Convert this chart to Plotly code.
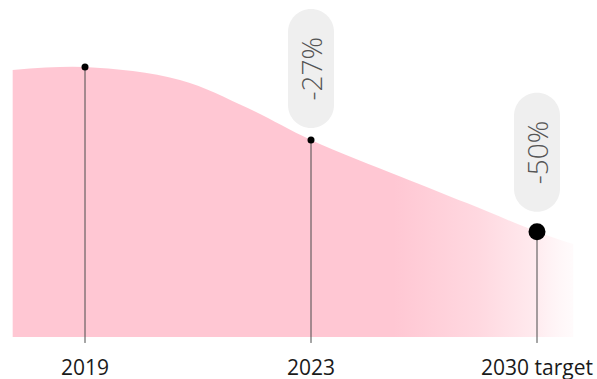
import plotly.graph_objects as go

# ---- data ----
years = ["2019", "2023", "2030 target"]
year_pos = [0, 1, 2]
values = [100, 73, 39]            # emissions index
changes = ["", "-27%", "-50%"]

# outline of the shaded area (category position, index value)
curve_x = [-0.32, 0, 0.42, 0.72, 1, 1.40, 1.69, 2, 2.16]
curve_y = [98.9, 100, 95.2, 84.8, 73, 59.3, 49.6, 39, 34.4]

PINK = "rgb(255,199,211)"

fig = go.Figure()

fig.add_trace(go.Scatter(
    x=curve_x, y=curve_y, mode="lines", line=dict(width=0, shape="spline", smoothing=1.0),
    fill="tozeroy",
    fillgradient=dict(type="horizontal", colorscale=[
        [0.0, PINK], [0.68, PINK], [0.83, "rgb(255,216,224)"],
        [0.93, "rgb(255,234,238)"], [1.0, "rgba(255,244,246,0.4)"]]),
    hoverinfo="skip", showlegend=False))

# stems
stem_bottom = -2.2
for xp, v in zip(year_pos, values):
    fig.add_trace(go.Scatter(x=[xp, xp], y=[stem_bottom, v], mode="lines",
                             line=dict(color="#4a4a4a", width=1),
                             hoverinfo="skip", showlegend=False))

# dots
fig.add_trace(go.Scatter(
    x=year_pos, y=values, mode="markers",
    marker=dict(color="#000000", size=[7, 7, 17], opacity=1, line=dict(width=0)),
    hoverinfo="skip", showlegend=False))

# pills with rotated labels
W, H = 46, 119
r = W / 2
k = 0.5523
for xp, v, txt, gap in zip(year_pos, values, changes, [0, 12, 20]):
    if not txt:
        continue
    b = gap
    t = gap + H
    path = (f"M {-r},{b + r} L {-r},{t - r} "
            f"C {-r},{t - r + k * r} {-k * r},{t} 0,{t} "
            f"C {k * r},{t} {r},{t - r + k * r} {r},{t - r} "
            f"L {r},{b + r} "
            f"C {r},{b + r - k * r} {k * r},{b} 0,{b} "
            f"C {-k * r},{b} {-r},{b + r - k * r} {-r},{b + r} Z")
    fig.add_shape(type="path", xref="x", yref="y", xsizemode="pixel", ysizemode="pixel",
                  xanchor=xp, yanchor=v, path=path,
                  fillcolor="#efefef", line=dict(width=0), layer="above")
    fig.add_annotation(x=xp, y=v, xref="x", yref="y", text=txt, showarrow=False,
                       textangle=-90, yshift=gap + H / 2,
                       font=dict(family="Open Sans", size=28, color="#555555", weight=300))

fig.update_layout(
    width=597, height=379,
    margin=dict(l=0, r=0, t=0, b=29),
    paper_bgcolor="white", plot_bgcolor="rgba(0,0,0,0)",
    xaxis=dict(range=[-85 / 226, 2 + 60 / 226], tickvals=year_pos, ticktext=years,
               showgrid=False, zeroline=False, showline=False, ticks="",
               ticklabelstandoff=3, automargin=False,
               tickfont=dict(family="Open Sans", size=21, color="#1a1a1a")),
    yaxis=dict(range=[-350 / 2.7 + 337 / 2.7, 337 / 2.7], visible=False,
               showgrid=False, zeroline=False, automargin=False),
)

fig.write_html("out.html")
